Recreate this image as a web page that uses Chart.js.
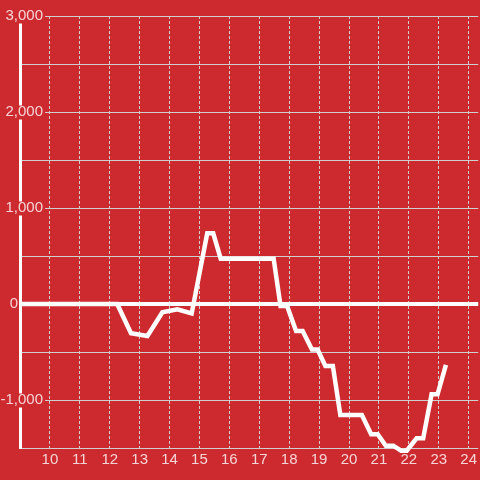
<!DOCTYPE html>
<html>
<head>
<meta charset="utf-8">
<script src="https://cdn.jsdelivr.net/npm/chart.js@4/dist/chart.umd.min.js"></script>
<style>
  html, body { margin: 0; padding: 0; background: #cd2a2f; }
  canvas { display: block; }
</style>
</head>
<body>
<canvas id="myChart" width="480" height="480"></canvas>
<script>
'use strict';

// データ（時刻と値）
const hours = [9.0, 12.25, 12.71, 13.26, 13.76, 14.26, 14.74, 15.26, 15.46, 15.71,
    17.48, 17.71, 17.93, 18.23, 18.45, 18.76, 18.95, 19.21, 19.46, 19.71,
    20.43, 20.74, 20.96, 21.23, 21.48, 21.74, 21.93, 22.26, 22.48, 22.76,
    22.96, 23.24];
const values = [0, 0, -305, -333, -86, -55, -97, 736, 736, 472,
    472, -21, -21, -281, -281, -474, -474, -646, -646, -1156,
    -1156, -1357, -1357, -1476, -1476, -1528, -1528, -1399, -1399, -941,
    -941, -635];
const xTicks = [10, 11, 12, 13, 14, 15, 16, 17, 18, 19, 20, 21, 22, 23, 24];
const yLabelStep = 1000;

const bg = '#cd2a2f';
const labelColor = 'rgba(255,255,255,0.8)';
const gridColor = '#cfcfcf';

var points = [];
for (var i = 0; i < hours.length; i++) {
    points.push({ x: hours[i], y: values[i] });
}

// 背景塗り
const bgPlugin = {
    id: 'bg',
    beforeDraw: chart => {
        const ctx = chart.ctx;
        ctx.save();
        ctx.fillStyle = bg;
        ctx.fillRect(0, 0, chart.width, chart.height);
        ctx.restore();
    }
};

// 目盛りラベル（0 は軸の左側に寄せる）
function yLabel(v) {
    if (v % yLabelStep !== 0) return '';
    if (v === 0) return '0      ';
    return v.toLocaleString('en-US');
}

const config = {
    type: 'line',
    data: {
        datasets: [
            {
                data: points,
                borderColor: '#ffffff',
                borderWidth: 4.5,
                borderJoinStyle: 'miter',
                pointRadius: 0,
                tension: 0,
                clip: false
            }
        ]
    },
    options: {
        responsive: false,
        animation: false,
        devicePixelRatio: 1,
        layout: {
            padding: { top: 16, left: 0, right: 0, bottom: 0 }
        },
        plugins: {
            legend: { display: false },
            tooltip: { enabled: false }
        },
        scales: {
            x: {
                type: 'linear',
                min: 9,
                max: 24.32,
                afterBuildTicks: scale => {
                    scale.ticks = xTicks.map(v => ({ value: v }));
                },
                afterFit: scale => {
                    scale.height = 32;
                },
                ticks: {
                    color: labelColor,
                    padding: 3,
                    font: { family: "'Liberation Sans', Arial, sans-serif", size: 15 }
                },
                grid: {
                    color: gridColor,
                    lineWidth: 1,
                    drawTicks: false
                },
                border: { display: false, dash: [3, 2] }
            },
            y: {
                min: -1500,
                max: 3000,
                afterFit: scale => {
                    scale.width = 20;
                },
                ticks: {
                    stepSize: 500,
                    color: labelColor,
                    mirror: true,
                    crossAlign: 'far',
                    padding: -19.5,
                    font: { family: "'Liberation Sans', Arial, sans-serif", size: 15, lineHeight: 1 },
                    callback: yLabel,
                    showLabelBackdrop: ctx => ctx.tick.value % yLabelStep === 0 && ctx.tick.value !== 0,
                    backdropColor: bg,
                    backdropPadding: { top: -1, bottom: 0, left: 2, right: 2 }
                },
                grid: {
                    color: ctx => (ctx.tick && ctx.tick.value === 0 ? '#ffffff' : gridColor),
                    lineWidth: ctx => (ctx.tick && ctx.tick.value === 0 ? 4 : 1),
                    drawTicks: false
                },
                border: { display: true, color: '#ffffff', width: 3 }
            }
        }
    },
    plugins: [bgPlugin]
};

const myChart = new Chart(document.getElementById('myChart'), config);
</script>
</body>
</html>
